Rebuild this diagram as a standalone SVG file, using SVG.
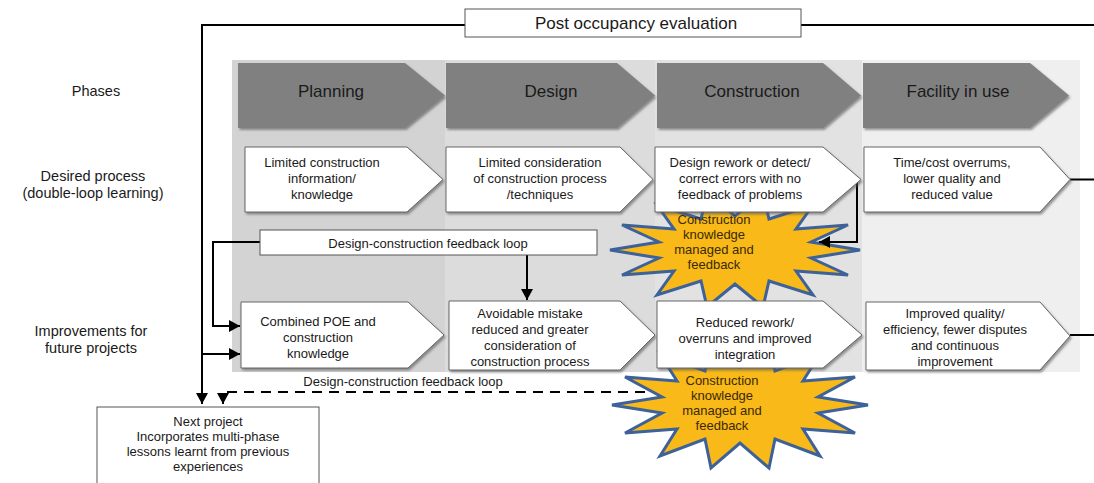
<svg xmlns="http://www.w3.org/2000/svg" width="1094" height="483" viewBox="0 0 1094 483">
<defs>
<style>
text{font-family:"Liberation Sans",Arial,sans-serif;fill:#1a1a1a;text-anchor:middle;dominant-baseline:central}
.lbl{font-size:14.5px}
.ph{font-size:17px}
.t{font-size:13px}
.box{fill:#fff;stroke:#555;stroke-width:1}
.pent{fill:#fff;stroke:#666;stroke-width:1;filter:url(#sh)}
.phase{fill:#808080;filter:url(#sh)}
.ln{fill:none;stroke:#000;stroke-width:2}
.dash{fill:none;stroke:#000;stroke-width:2;stroke-dasharray:10 7}
.star{fill:#F8B919;stroke:#3D6199;stroke-width:3;stroke-linejoin:miter}
.st{font-size:13px;fill:#3a2a05}
</style>
<filter id="sh" x="-5%" y="-10%" width="115%" height="130%">
<feDropShadow dx="1.5" dy="2" stdDeviation="1" flood-color="#555" flood-opacity="0.6"/>
</filter>
<marker id="ah" markerUnits="userSpaceOnUse" markerWidth="12" markerHeight="12" refX="11" refY="6" orient="auto">
<path d="M0,0 L11,6 L0,12 z" fill="#000"/>
</marker>
</defs>
<rect width="1094" height="483" fill="#fff"/>

<g id="background">
<rect x="232" y="60" width="213" height="312" fill="#d3d3d3"/>
<rect x="445" y="60" width="210" height="312" fill="#dcdcdc"/>
<rect x="655" y="60" width="207" height="312" fill="#e2e2e2"/>
<rect x="862" y="60" width="218" height="312" fill="#efefef"/>
</g>

<g id="row-labels">
<text class="lbl" x="96" y="91">Phases</text>
<text class="lbl" x="93" y="176">Desired process</text>
<text class="lbl" x="93" y="193">(double-loop learning)</text>
<text class="lbl" x="91" y="331">Improvements for</text>
<text class="lbl" x="91" y="348">future projects</text>
</g>

<g id="phases">
<g id="phase-planning"><polygon class="phase" points="238,63 405,63 445,95.5 405,128 238,128"/><text class="ph" x="331" y="91">Planning</text></g>
<g id="phase-design"><polygon class="phase" points="446,63 617,63 655,95.5 617,128 446,128"/><text class="ph" x="551" y="91">Design</text></g>
<g id="phase-construction"><polygon class="phase" points="657,63 823,63 861,95.5 823,128 657,128"/><text class="ph" x="752" y="91">Construction</text></g>
<g id="phase-facility"><polygon class="phase" points="863,63 1030,63 1069,95.5 1030,128 863,128"/><text class="ph" x="958" y="91">Facility in use</text></g>
</g>

<g id="stars">
<g id="star-1">
<polygon class="star" points="860,250 811,258 848,275 796,271 813,295 769,281 763,307 735,284 707,307 701,281 657,295 674,271 622,275 659,258 610,250 659,242 622,225 674,229 657,205 701,219 707,193 735,216 763,193 769,219 813,205 796,229 848,225 811,242"/>
</g>
<g id="star-2">
<polygon class="star" points="868,405 818,413 855,433 803,429 820,456 775,439 769,468 740,443 711,468 705,439 660,456 677,429 625,433 662,413 612,405 662,397 625,377 677,381 660,354 705,371 711,342 740,367 769,342 775,371 820,354 803,381 855,377 818,397"/>
</g>
</g>

<g id="connectors">
<polyline class="ln" points="465,25 202,25 202,404" marker-end="url(#ah)"/>
<line class="ln" x1="801" y1="25" x2="1094" y2="25"/>
<line class="ln" x1="1070" y1="179.5" x2="1094" y2="179.5"/>
<line class="ln" x1="1070" y1="335" x2="1094" y2="335"/>
<polyline class="ln" points="260,242 213,242 213,326 240,326" marker-end="url(#ah)"/>
<polyline class="ln" points="202,354 240,354" marker-end="url(#ah)"/>
<line class="ln" x1="527" y1="255" x2="527" y2="300" marker-end="url(#ah)"/>
<polyline class="ln" points="857,183 857,242 819,242" marker-end="url(#ah)"/>
<polyline class="dash" points="645,392 223,392 223,404" marker-end="url(#ah)"/>
<text class="t" x="403" y="381">Design-construction feedback loop</text>
</g>

<g id="star-texts">
<text class="st" x="714" y="219">Construction</text>
<text class="st" x="714" y="234">knowledge</text>
<text class="st" x="714" y="249">managed and</text>
<text class="st" x="714" y="264">feedback</text>
<text class="st" x="722" y="380">Construction</text>
<text class="st" x="722" y="395">knowledge</text>
<text class="st" x="722" y="410">managed and</text>
<text class="st" x="722" y="425">feedback</text>
</g>

<g id="poe">
<rect class="box" x="465" y="9" width="336" height="28"/>
<text class="ph" x="636" y="23">Post occupancy evaluation</text>
</g>

<g id="feedback-loop">
<rect class="box" x="260" y="230" width="337" height="25"/>
<text class="t" x="428" y="243">Design-construction feedback loop</text>
</g>

<g id="d1"><polygon class="pent" points="245,147 407,147 443,179.5 407,212 245,212"/>
<text class="t" x="322" y="162">Limited construction</text><text class="t" x="322" y="178">information/</text><text class="t" x="322" y="194">knowledge</text></g>
<g id="d2"><polygon class="pent" points="446,147 620,147 653,179.5 620,212 446,212"/>
<text class="t" x="540" y="162">Limited consideration</text><text class="t" x="540" y="178">of construction process</text><text class="t" x="540" y="194">/techniques</text></g>
<g id="d3"><polygon class="pent" points="655,147 823,147 861,179.5 823,212 655,212"/>
<text class="t" x="740" y="162">Design rework or detect/</text><text class="t" x="740" y="178">correct errors with no</text><text class="t" x="740" y="194">feedback of problems</text></g>
<g id="d4"><polygon class="pent" points="864,147 1040,147 1070,179.5 1040,212 864,212"/>
<text class="t" x="952" y="162">Time/cost overrums,</text><text class="t" x="952" y="178">lower quality and</text><text class="t" x="952" y="194">reduced value</text></g>

<g id="i1"><polygon class="pent" points="241,302 408,302 444,335 408,368 241,368"/>
<text class="t" x="318" y="321">Combined POE and</text><text class="t" x="318" y="337">construction</text><text class="t" x="318" y="353">knowledge</text></g>
<g id="i2"><polygon class="pent" points="449,301 620,301 655,335 620,370 449,370"/>
<text class="t" x="530" y="313">Avoidable mistake</text><text class="t" x="530" y="329">reduced and greater</text><text class="t" x="530" y="345">consideration of</text><text class="t" x="530" y="361">construction process</text></g>
<g id="i3"><polygon class="pent" points="657,301 823,301 862,335 823,368 657,368"/>
<text class="t" x="745" y="322">Reduced rework/</text><text class="t" x="745" y="338">overruns and improved</text><text class="t" x="745" y="354">integration</text></g>
<g id="i4"><polygon class="pent" points="866,302 1040,302 1070,336 1040,370 866,370"/>
<text class="t" x="955" y="313">Improved quality/</text><text class="t" x="955" y="329">efficiency, fewer disputes</text><text class="t" x="955" y="345">and continuous</text><text class="t" x="955" y="361">improvement</text></g>

<g id="next-project">
<rect class="box" x="97" y="407" width="222" height="82"/>
<text class="t" x="208" y="421">Next project</text>
<text class="t" x="208" y="436">Incorporates multi-phase</text>
<text class="t" x="208" y="451">lessons learnt from previous</text>
<text class="t" x="208" y="466">experiences</text>
</g>
</svg>
